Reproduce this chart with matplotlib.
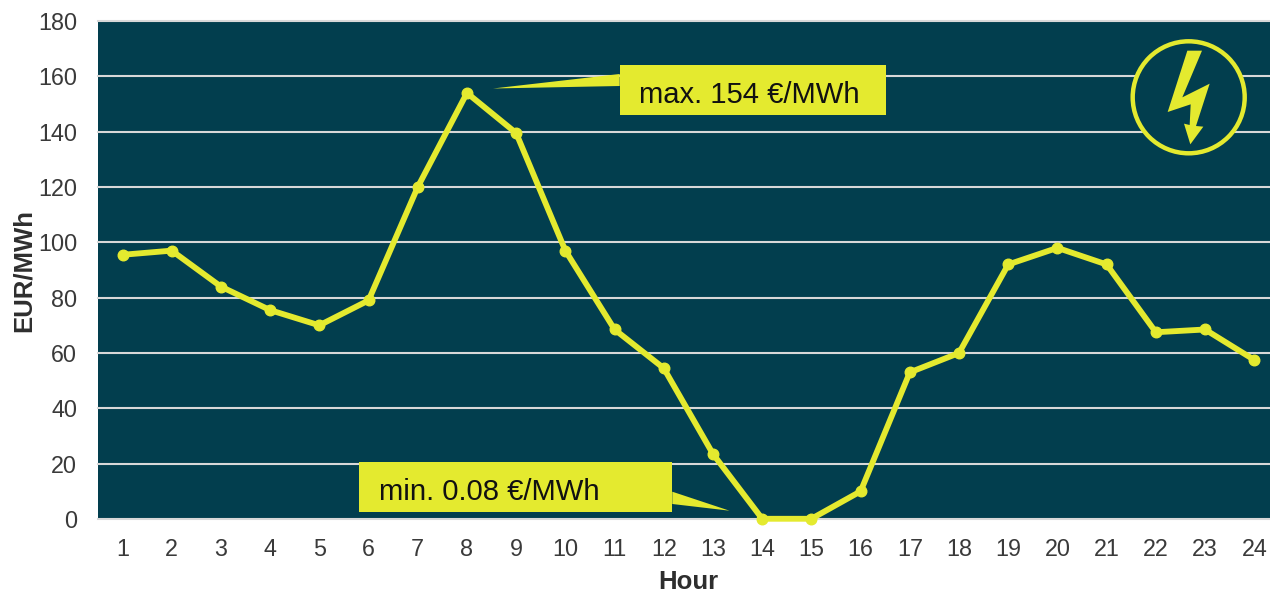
import matplotlib
matplotlib.use('Agg')
import matplotlib.pyplot as plt
from matplotlib.patches import Circle, Polygon, Rectangle
from matplotlib.transforms import Affine2D

W, H = 1270, 593

hours = list(range(1, 25))
prices = [95.5, 97, 84, 75.5, 70, 79, 120, 154, 139.5, 97, 68.5, 54.5,
          23.5, 0.08, 0.08, 10, 53, 60, 92, 98, 92, 67.5, 68.5, 57.5]
y_ticks = list(range(0, 181, 20))
max_label = 'max. 154 €/MWh'
min_label = 'min. 0.08 €/MWh'

BG = '#023e4e'
YELLOW = '#e4ea2f'
GRID = '#d8d8d8'
TEXT = '#3a3a3a'

plt.rcParams['font.family'] = ['Liberation Sans', 'DejaVu Sans']

fig = plt.figure(figsize=(W / 100, H / 100), dpi=100)
ax = fig.add_axes([98 / W, (H - 519) / H, (W - 98) / W, 498 / H])
ax.set_facecolor(BG)
ax.set_xlim(0.502, 24.32)
ax.set_ylim(0, 180)

for s in ax.spines.values():
    s.set_visible(False)
ax.set_yticks(y_ticks)
ax.set_xticks(hours)
ax.tick_params(length=0)
ax.tick_params(axis='x', labelsize=16.8, labelcolor=TEXT, pad=13.5)
ax.tick_params(axis='y', labelsize=16.8, labelcolor=TEXT, pad=15)
ax.grid(axis='y', color=GRID, lw=1.5, zorder=1)
ax.set_axisbelow(True)
for gl in ax.get_ygridlines():
    gl.set_clip_on(False)

ax.plot(hours, prices, color=YELLOW, lw=4.2, marker='o', ms=7.6, zorder=3,
        solid_joinstyle='round', clip_on=False)

ax.set_xlabel('Hour', fontsize=18.5, fontweight='bold', color='#2e2e2e', x=0.504, labelpad=7)
ax.set_ylabel('EUR/MWh', fontsize=18.5, fontweight='bold', color='#2e2e2e', y=0.5, labelpad=1.5)

# everything below is placed in image pixels, origin top left
px = Affine2D().scale(1, -1).translate(0, H)


def callout(box, tail, label, text_xy):
    x0, y0, x1, y1 = box
    fig.add_artist(Polygon(tail, closed=True, fc=YELLOW, ec='none', transform=px, zorder=5))
    fig.add_artist(Rectangle((x0, y0), x1 - x0, y1 - y0, fc=YELLOW, ec='none', transform=px, zorder=5))
    fig.text(text_xy[0] / W, 1 - text_xy[1] / H, label, fontsize=21.1, color='#111111',
             va='baseline', ha='left', zorder=6)


callout((619.7, 65.3, 885.7, 115.3), [(619.7, 74), (619.7, 86), (493, 88.5)], max_label, (639, 102.7))
callout((359.3, 462.3, 672.3, 512), [(672.3, 491.7), (672.3, 504), (729.5, 510.7)], min_label, (379, 500))

# lightning symbol
fig.add_artist(Circle((1188.7, 97.3), 56, fc=BG, ec=YELLOW, lw=3.2, transform=px, zorder=4))
bolt = [(262, 122), (306, 122), (247, 262), (329, 221), (288, 348), (310, 350),
        (271, 403), (252, 341), (269, 345), (272, 283), (203, 306)]
bolt_px = [(1100 + a / 3, 10 + b / 3) for a, b in bolt]
fig.add_artist(Polygon(bolt_px, closed=True, fc=YELLOW, ec='none', transform=px, zorder=5))

fig.savefig('out.png', dpi=100)
